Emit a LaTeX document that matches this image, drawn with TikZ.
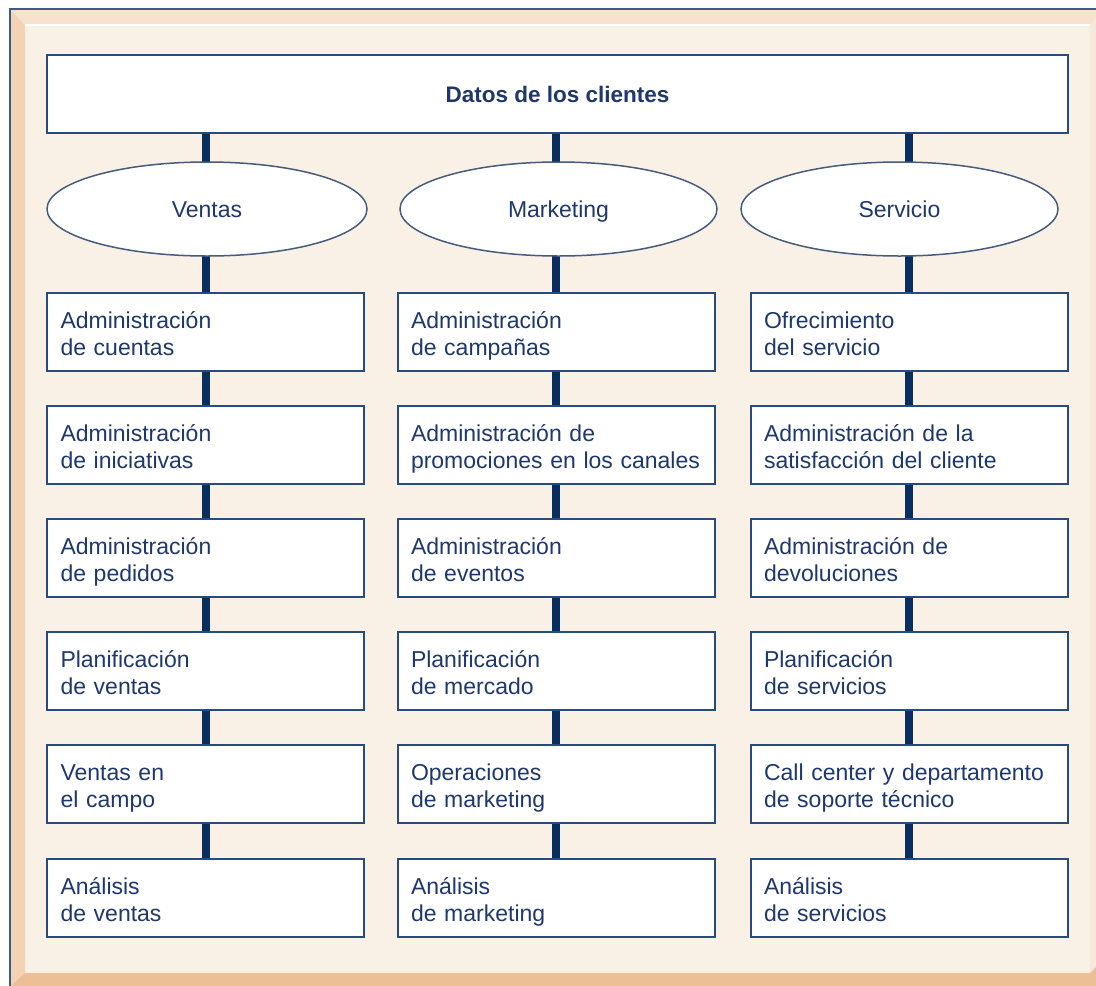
\documentclass[tikz,border=0pt]{standalone}
\usepackage{fontspec}
\setmainfont{Liberation Sans}
\usetikzlibrary{shapes.geometric}
\definecolor{bgin}{RGB}{249,240,230}
\definecolor{bevleft}{RGB}{243,211,180}
\definecolor{bevtop}{RGB}{246,226,206}
\definecolor{bevbot}{RGB}{237,191,150}
\definecolor{bevright}{RGB}{246,232,218}
\definecolor{frameline}{RGB}{60,92,135}
\definecolor{conncol}{RGB}{8,45,95}
\definecolor{boxline}{RGB}{40,75,125}
\definecolor{ellline}{RGB}{70,92,125}
\definecolor{txt}{RGB}{30,55,110}
\pgfdeclarelayer{back}
\pgfsetlayers{back,main}
\tikzset{
  boxnode/.style={draw=boxline, line width=2pt, fill=white, rectangle,
    minimum width=317pt, minimum height=78pt, text width=290pt,
    inner xsep=13.5pt, inner ysep=0pt, align=left, text=txt,
    font=\fontsize{23}{27}\selectfont, text height=20pt, text depth=28pt},
  ellnode/.style={draw=ellline, line width=1.5pt, fill=white, ellipse,
    minimum height=94pt, inner sep=0pt, text=txt,
    font=\fontsize{23}{27}\selectfont, text height=16.5pt, text depth=0pt},
  topnode/.style={draw=boxline, line width=2pt, fill=white, rectangle,
    minimum width=1021pt, minimum height=78pt, inner sep=0pt, text=txt,
    font=\fontsize{22.5}{27}\selectfont\bfseries},
  conn/.style={draw=conncol, line width=8pt}
}
\begin{document}
\begin{tikzpicture}[x=1pt,y=-1pt]
\useasboundingbox (0,0) rectangle (1096,986);
\begin{pgfonlayer}{back}
  \fill[white] (0,0) rectangle (1096,986);
  \fill[bgin] (25,25) rectangle (1090,973);
  \fill[bevleft] (10.5,9.5) -- (25,25) -- (25,973) -- (10.5,986) -- cycle;
  \fill[bevtop] (10.5,9.5) -- (1096,9.5) -- (1096,19) -- (1090,25) -- (25,25) -- cycle;
  \fill[bevright] (1090,25) -- (1096,19) -- (1096,967) -- (1090,973) -- cycle;
  \fill[bevbot] (10.5,986) -- (25,973) -- (1090,973) -- (1096,967) -- (1096,986) -- cycle;
  \draw[white, line width=1.5pt] (25,25) -- (1090,25);
  \draw[frameline, line width=2pt] (9.5,990) -- (9.5,8.5) -- (1100,8.5);
\end{pgfonlayer}

\node[topnode] (top) at (557.5,94) {Datos de los clientes};

\node[ellnode, minimum width=320pt] (ev) at (207,209) {Ventas};
\node[ellnode, minimum width=317pt] (em) at (558.5,209) {Marketing};
\node[ellnode, minimum width=317pt] (es) at (899.5,209) {Servicio};

% Ventas column
\node[boxnode] (v1) at (205.5,332) {Administración\\de cuentas};
\node[boxnode] (v2) at (205.5,445) {Administración\\de iniciativas};
\node[boxnode] (v3) at (205.5,558) {Administración\\de pedidos};
\node[boxnode] (v4) at (205.5,671) {Planificación\\de ventas};
\node[boxnode] (v5) at (205.5,784) {Ventas en\\el campo};
\node[boxnode] (v6) at (205.5,898) {Análisis\\de ventas};

% Marketing column
\node[boxnode, minimum width=316pt] (m1) at (556,332) {Administración\\de campañas};
\node[boxnode, minimum width=316pt] (m2) at (556,445) {Administración de\\promociones en los canales};
\node[boxnode, minimum width=316pt] (m3) at (556,558) {Administración\\de eventos};
\node[boxnode, minimum width=316pt] (m4) at (556,671) {Planificación\\de mercado};
\node[boxnode, minimum width=316pt] (m5) at (556,784) {Operaciones\\de marketing};
\node[boxnode, minimum width=316pt] (m6) at (556,898) {Análisis\\de marketing};

% Servicio column
\node[boxnode, minimum width=316pt] (s1) at (909,332) {Ofrecimiento\\del servicio};
\node[boxnode, minimum width=316pt] (s2) at (909,445) {Administración de la\\satisfacción del cliente};
\node[boxnode, minimum width=316pt] (s3) at (909,558) {Administración de\\devoluciones};
\node[boxnode, minimum width=316pt] (s4) at (909,671) {Planificación\\de servicios};
\node[boxnode, minimum width=316pt] (s5) at (909,784) {Call center y departamento\\de soporte técnico};
\node[boxnode, minimum width=316pt] (s6) at (909,898) {Análisis\\de servicios};

\begin{pgfonlayer}{back}
  \foreach \c/\e in {v/ev, m/em, s/es} {
    \draw[conn] (top.south -| \c1) -- (\e.center -| \c1);
    \draw[conn] (\e.center -| \c1) -- (\c1.north);
    \foreach \i [evaluate=\i as \j using int(\i+1)] in {1,...,5} {
      \draw[conn] (\c\i.south) -- (\c\j.north);
    }
  }
\end{pgfonlayer}
\end{tikzpicture}
\end{document}
